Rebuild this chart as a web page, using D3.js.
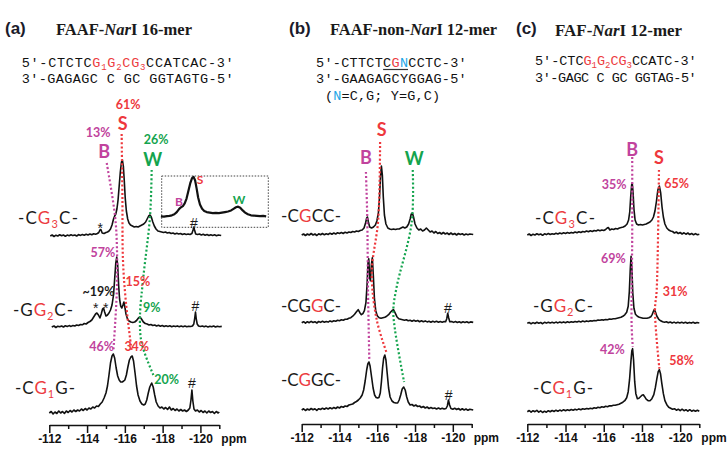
<!DOCTYPE html>
<html><head><meta charset="utf-8">
<script src="https://cdn.jsdelivr.net/npm/d3@7"></script>
<style>body{margin:0;background:#fff}svg{display:block}text{white-space:pre}</style>
</head><body>
<svg id="c" width="728" height="453"></svg>
<script>
// ---------------- DATA ----------------
const ppmTicks = [-112,-113,-114,-115,-116,-117,-118,-119,-120,-121];
const majorTicks = [-112,-114,-116,-118,-120];

// spectra: [ppm, intensity] (baseline = 0)
const specA_G3 = [[-112.05,0],[-112.15,1],[-112.25,-0.5],[-112.35,0.8],[-112.45,0],[-112.55,1.2],[-112.65,0.2],[-112.75,1],[-112.85,-0.3],[-112.95,0.9],[-113.05,0.3],[-113.15,1.3],[-113.25,0.4],[-113.35,1],[-113.45,0],[-113.55,1.4],[-113.65,0.6],[-113.75,1.5],[-113.85,0.8],[-113.95,1.8],[-114.05,1],[-114.15,2],[-114.25,1.2],[-114.35,2.3],[-114.45,1.8],[-114.55,2.5],[-114.62,3.5],[-114.68,6],[-114.73,6.5],[-114.8,3],[-114.9,2.5],[-115.0,3.5],[-115.08,4],[-115.16,5],[-115.24,7],[-115.32,11],[-115.40,17],[-115.46,20],[-115.52,22],[-115.58,27],[-115.64,36],[-115.70,50],[-115.76,64],[-115.82,74],[-115.87,76],[-115.92,70],[-115.97,55],[-116.02,38],[-116.08,25],[-116.15,17],[-116.22,13],[-116.30,11],[-116.40,10],[-116.50,9],[-116.60,9.5],[-116.70,9],[-116.80,10],[-116.90,11],[-117.0,12],[-117.10,14],[-117.18,17],[-117.26,20],[-117.33,21],[-117.40,19],[-117.48,14],[-117.56,10],[-117.65,7],[-117.75,5],[-117.85,4.5],[-117.95,4],[-118.05,3.5],[-118.15,4],[-118.25,3],[-118.35,3.5],[-118.45,2.5],[-118.55,3],[-118.65,2],[-118.75,2.8],[-118.85,2],[-118.95,2.5],[-119.05,1.5],[-119.15,2.2],[-119.25,1.5],[-119.35,2],[-119.45,1.5],[-119.55,2.5],[-119.61,6],[-119.65,9],[-119.69,6],[-119.75,2],[-119.85,1.5],[-119.95,2],[-120.05,1],[-120.15,1.8],[-120.25,0.8],[-120.35,1.5],[-120.45,0.5],[-120.55,1.3],[-120.65,0.6],[-120.75,1.2],[-120.85,0.3],[-120.95,1],[-121.1,0.5]];

const specA_G2 = [[-112.13,0],[-112.25,1],[-112.35,-0.5],[-112.45,0.8],[-112.55,0.2],[-112.65,1],[-112.75,0],[-112.85,1.2],[-112.95,0.5],[-113.05,1.4],[-113.15,0.6],[-113.25,1.5],[-113.35,1],[-113.45,2],[-113.55,1.5],[-113.65,2.5],[-113.75,2.2],[-113.85,3.5],[-113.95,3],[-114.05,4.5],[-114.15,5.5],[-114.25,7],[-114.35,10],[-114.45,13],[-114.52,14],[-114.60,12],[-114.68,9],[-114.75,13],[-114.82,18],[-114.87,19],[-114.93,15],[-115.0,11],[-115.08,12],[-115.16,14],[-115.24,17],[-115.32,22],[-115.40,32],[-115.46,48],[-115.52,64],[-115.57,70],[-115.62,62],[-115.67,42],[-115.72,28],[-115.78,21],[-115.84,19],[-115.90,22],[-115.95,25],[-116.00,20],[-116.06,13],[-116.14,8],[-116.22,6],[-116.32,5],[-116.42,4.5],[-116.52,5],[-116.62,6.5],[-116.72,9],[-116.80,10],[-116.88,8],[-116.98,5],[-117.08,3.5],[-117.18,3],[-117.28,2],[-117.38,2.5],[-117.48,1.5],[-117.58,2],[-117.68,1],[-117.78,1.8],[-117.88,0.8],[-117.98,1.5],[-118.08,0.5],[-118.18,1.3],[-118.28,0.6],[-118.38,1.2],[-118.48,0.3],[-118.58,1],[-118.68,0.4],[-118.78,1.1],[-118.88,0.2],[-118.98,0.9],[-119.08,0.3],[-119.18,1],[-119.28,0.2],[-119.38,0.8],[-119.48,0.5],[-119.58,1],[-119.65,3],[-119.70,9],[-119.74,15],[-119.78,8],[-119.83,3],[-119.90,1],[-120.0,0.5],[-120.1,1],[-120.2,0.2],[-120.3,0.9],[-120.4,0],[-120.5,0.8],[-120.6,0.2],[-120.7,1],[-120.8,0],[-120.9,0.8],[-121.0,0.2],[-121.13,0.6]];

const specA_G1 = [[-112.0,0],[-112.1,1.5],[-112.2,-1],[-112.3,1],[-112.4,-0.5],[-112.5,2],[-112.6,0],[-112.7,1.5],[-112.8,-0.5],[-112.9,2],[-113.0,0.5],[-113.1,2.5],[-113.2,1],[-113.3,3],[-113.4,1.5],[-113.5,3],[-113.6,2],[-113.7,4],[-113.8,2.5],[-113.9,4.5],[-114.0,3],[-114.1,5],[-114.2,4],[-114.3,6],[-114.4,5],[-114.5,7],[-114.6,6.5],[-114.7,9],[-114.8,11],[-114.9,15],[-115.0,20],[-115.08,27],[-115.16,38],[-115.24,50],[-115.32,57],[-115.39,59],[-115.46,55],[-115.54,45],[-115.62,37],[-115.70,33],[-115.78,31],[-115.86,31],[-115.94,32],[-116.0,33],[-116.08,38],[-116.16,46],[-116.24,53],[-116.32,56],[-116.39,57],[-116.46,52],[-116.54,40],[-116.62,27],[-116.70,18],[-116.80,12],[-116.90,9],[-117.0,8],[-117.08,9],[-117.16,13],[-117.24,20],[-117.32,26],[-117.42,30],[-117.50,26],[-117.58,18],[-117.66,11],[-117.76,7],[-117.86,5],[-117.96,6],[-118.06,4],[-118.16,5.5],[-118.26,3.5],[-118.36,6],[-118.46,3],[-118.56,4.5],[-118.66,2.5],[-118.76,4],[-118.86,2],[-118.96,3.5],[-119.06,2],[-119.16,3],[-119.26,1.5],[-119.36,3],[-119.44,5],[-119.50,13],[-119.55,23],[-119.60,12],[-119.66,4],[-119.74,2],[-119.84,3],[-119.94,1],[-120.04,2.5],[-120.14,0.5],[-120.24,2],[-120.34,0],[-120.44,2],[-120.54,0.5],[-120.64,1.5],[-120.74,-0.5],[-120.84,1.5],[-120.94,0],[-121.0,1]];

const specB_CGCC = [[-112.0,0],[-112.1,1],[-112.2,-0.5],[-112.3,1],[-112.4,0],[-112.5,1.5],[-112.6,0],[-112.7,1],[-112.8,-0.5],[-112.9,1.2],[-113.0,0.3],[-113.1,1.5],[-113.2,0.2],[-113.3,1.2],[-113.4,0.5],[-113.5,1.8],[-113.6,0.8],[-113.7,2],[-113.8,1],[-113.9,2.2],[-114.0,1.5],[-114.1,2.5],[-114.2,1.5],[-114.3,2.8],[-114.4,2],[-114.5,3],[-114.6,2.5],[-114.7,3.5],[-114.8,3],[-114.9,4],[-115.0,3.5],[-115.1,4.5],[-115.2,5],[-115.3,7],[-115.38,12],[-115.44,17],[-115.48,18],[-115.53,13],[-115.60,8],[-115.70,7],[-115.80,8],[-115.90,10],[-115.98,14],[-116.06,22],[-116.12,38],[-116.17,58],[-116.22,69],[-116.27,60],[-116.32,38],[-116.38,20],[-116.46,11],[-116.56,7],[-116.66,6],[-116.76,5.5],[-116.86,6],[-116.96,5.5],[-117.06,6],[-117.16,6],[-117.26,7],[-117.36,8],[-117.46,7],[-117.56,8],[-117.66,11],[-117.74,16],[-117.80,21],[-117.86,22],[-117.92,18],[-118.0,11],[-118.1,7],[-118.2,5],[-118.3,6],[-118.4,4],[-118.5,5],[-118.6,7],[-118.7,5],[-118.8,3],[-118.9,4],[-119.0,2],[-119.1,3.5],[-119.2,1.5],[-119.3,2.5],[-119.4,1],[-119.5,2.5],[-119.6,1],[-119.7,2],[-119.8,0.5],[-119.9,2],[-120.0,0.5],[-120.1,1.5],[-120.2,0],[-120.3,1.5],[-120.4,0.5],[-120.5,1.2],[-120.6,0],[-120.7,1],[-120.8,0.3],[-120.9,1],[-121.08,0.5]];

const specB_CGGC2 = [[-112.0,0],[-112.1,1],[-112.2,-0.5],[-112.3,1],[-112.4,0],[-112.5,1.3],[-112.6,0.2],[-112.7,1],[-112.8,-0.3],[-112.9,1.2],[-113.0,0.3],[-113.1,1.4],[-113.2,0.5],[-113.3,1.2],[-113.4,0.6],[-113.5,1.8],[-113.6,1],[-113.7,2],[-113.8,1.5],[-113.9,2.5],[-114.0,2],[-114.1,3],[-114.2,2.5],[-114.3,3.5],[-114.4,3.5],[-114.5,4.5],[-114.6,5],[-114.7,6.5],[-114.8,8.5],[-114.9,11],[-114.99,13],[-115.08,10],[-115.16,8],[-115.24,9],[-115.32,12],[-115.40,20],[-115.46,38],[-115.51,60],[-115.55,64],[-115.60,45],[-115.64,42],[-115.69,58],[-115.74,65],[-115.79,48],[-115.85,24],[-115.92,12],[-116.0,7],[-116.1,5],[-116.2,4.5],[-116.3,5],[-116.4,5.5],[-116.5,6.5],[-116.6,8],[-116.7,10.5],[-116.8,12.5],[-116.86,13],[-116.94,10],[-117.04,6],[-117.14,4],[-117.24,3.5],[-117.34,3],[-117.44,2.5],[-117.54,3],[-117.64,2],[-117.74,2.5],[-117.84,1.5],[-117.94,2.5],[-118.04,1.5],[-118.14,2.2],[-118.24,1],[-118.34,2],[-118.44,1],[-118.54,1.8],[-118.64,0.8],[-118.74,1.5],[-118.84,0.5],[-118.94,1.5],[-119.04,0.6],[-119.14,1.4],[-119.24,0.5],[-119.34,1.2],[-119.44,0.5],[-119.54,1.2],[-119.62,1],[-119.68,4],[-119.73,9.5],[-119.78,5],[-119.84,1],[-119.94,1.2],[-120.04,0.3],[-120.14,1.2],[-120.24,0.2],[-120.34,1],[-120.44,0],[-120.54,1],[-120.64,0.3],[-120.74,1],[-120.84,0],[-120.94,0.8],[-121.08,0.3]];

const specB_CGGC1 = [[-112.0,0],[-112.1,1.2],[-112.2,-0.5],[-112.3,1],[-112.4,0],[-112.5,1.5],[-112.6,0.3],[-112.7,1.2],[-112.8,-0.3],[-112.9,1.3],[-113.0,0.5],[-113.1,1.8],[-113.2,0.8],[-113.3,2],[-113.4,1],[-113.5,2.2],[-113.6,1.2],[-113.7,2.5],[-113.8,1.5],[-113.9,3],[-114.0,2],[-114.1,3.5],[-114.2,2.8],[-114.3,4],[-114.4,3.5],[-114.5,5],[-114.6,5.5],[-114.7,6],[-114.8,7.5],[-114.9,8.5],[-115.0,10],[-115.1,12],[-115.2,15],[-115.28,20],[-115.36,29],[-115.44,40],[-115.50,46],[-115.56,48],[-115.62,44],[-115.70,33],[-115.78,22],[-115.86,15],[-115.94,12.5],[-116.02,12],[-116.09,12.5],[-116.16,17],[-116.22,28],[-116.28,42],[-116.34,52],[-116.40,55],[-116.46,50],[-116.53,36],[-116.60,22],[-116.68,13],[-116.78,9],[-116.88,7.5],[-116.98,7],[-117.08,7],[-117.16,10],[-117.24,15],[-117.32,21],[-117.40,23],[-117.48,20],[-117.56,13],[-117.64,8],[-117.74,5],[-117.84,5.5],[-117.94,4],[-118.04,5],[-118.14,3.5],[-118.24,4],[-118.34,2.5],[-118.44,3.5],[-118.54,2],[-118.64,3],[-118.74,1.5],[-118.84,2.5],[-118.94,1.5],[-119.04,2],[-119.14,1],[-119.24,2],[-119.34,1],[-119.44,1.8],[-119.54,1],[-119.64,1.5],[-119.71,4],[-119.77,10],[-119.83,5],[-119.9,1.5],[-120.0,0.8],[-120.1,1.8],[-120.2,0.5],[-120.3,1.5],[-120.4,0],[-120.5,1.2],[-120.6,0],[-120.7,1],[-120.8,-0.3],[-120.9,0.8],[-121.08,0]];

const specC_G3 = [[-112.0,0],[-112.1,1],[-112.2,-0.5],[-112.3,0.8],[-112.4,0],[-112.5,1.2],[-112.6,0.2],[-112.7,1],[-112.8,-0.3],[-112.9,1.2],[-113.0,0.4],[-113.1,1.5],[-113.2,0.5],[-113.3,1.3],[-113.4,0.8],[-113.5,1.8],[-113.6,1],[-113.7,2],[-113.8,1.3],[-113.9,2.2],[-114.0,1.5],[-114.1,2.5],[-114.2,1.8],[-114.3,2.6],[-114.4,2],[-114.5,3],[-114.6,2.2],[-114.7,3.2],[-114.8,2.5],[-114.9,3.5],[-115.0,3],[-115.1,4],[-115.2,3.2],[-115.3,4.2],[-115.4,3.5],[-115.5,4.5],[-115.6,4],[-115.7,5],[-115.8,4.2],[-115.9,5],[-116.0,4.5],[-116.1,5.5],[-116.18,7],[-116.24,7.5],[-116.32,5],[-116.42,6],[-116.52,5.5],[-116.62,6.5],[-116.72,6],[-116.82,7],[-116.92,7.5],[-117.02,8],[-117.12,9],[-117.22,11],[-117.30,15],[-117.36,23],[-117.41,38],[-117.46,50],[-117.49,52],[-117.53,44],[-117.58,26],[-117.64,15],[-117.72,11],[-117.82,10],[-117.92,10.5],[-118.02,10],[-118.12,10.5],[-118.22,11],[-118.32,12],[-118.42,13],[-118.52,15],[-118.60,18],[-118.68,24],[-118.76,34],[-118.83,45],[-118.91,49],[-118.98,42],[-119.05,28],[-119.12,18],[-119.20,11],[-119.30,7],[-119.40,5],[-119.50,4],[-119.6,3.5],[-119.7,2],[-119.8,3],[-119.9,1.5],[-120.0,2.5],[-120.1,1],[-120.2,2.2],[-120.3,0.8],[-120.4,2],[-120.5,0.5],[-120.6,1.5],[-120.7,0.2],[-120.8,1.4],[-120.9,0.3],[-121.0,0.8]];

const specC_G2 = [[-112.0,0],[-112.1,0.8],[-112.2,-0.5],[-112.3,0.7],[-112.4,-0.2],[-112.5,1],[-112.6,0],[-112.7,0.8],[-112.8,-0.4],[-112.9,1],[-113.0,0.2],[-113.1,1.1],[-113.2,0.3],[-113.3,1],[-113.4,0.3],[-113.5,1.2],[-113.6,0.4],[-113.7,1.3],[-113.8,0.5],[-113.9,1.4],[-114.0,0.6],[-114.1,1.5],[-114.2,0.8],[-114.3,1.6],[-114.4,1],[-114.5,1.8],[-114.6,1.2],[-114.7,2],[-114.8,1.4],[-114.9,2.2],[-115.0,1.6],[-115.1,2.4],[-115.2,1.8],[-115.3,2.6],[-115.4,2.2],[-115.5,2.8],[-115.6,2.5],[-115.7,3.2],[-115.8,3],[-115.9,3.5],[-116.0,3.2],[-116.1,3.8],[-116.2,3.5],[-116.3,4.2],[-116.4,4],[-116.5,4.5],[-116.6,4.5],[-116.7,5],[-116.8,5.5],[-116.9,6],[-117.0,7],[-117.1,8.5],[-117.2,11],[-117.28,17],[-117.34,32],[-117.39,55],[-117.43,67],[-117.47,56],[-117.52,30],[-117.58,15],[-117.66,9],[-117.76,7],[-117.86,6],[-117.96,5.5],[-118.06,5],[-118.16,5],[-118.26,5],[-118.36,5.5],[-118.46,6.5],[-118.54,9],[-118.60,12],[-118.65,14],[-118.71,11],[-118.78,7],[-118.88,4],[-118.98,2.5],[-119.08,1.5],[-119.18,1],[-119.28,1.5],[-119.38,0.5],[-119.48,1.3],[-119.58,0.3],[-119.68,1.2],[-119.78,0.2],[-119.88,1],[-119.98,0.3],[-120.08,1.1],[-120.18,0.2],[-120.28,1],[-120.38,0],[-120.48,0.9],[-120.58,0.2],[-120.68,1],[-120.78,0],[-120.88,0.8],[-121.0,0.3]];

const specC_G1 = [[-112.0,0],[-112.1,1.2],[-112.2,-0.5],[-112.3,1],[-112.4,0],[-112.5,1.3],[-112.6,-0.5],[-112.7,0.8],[-112.8,-0.8],[-112.9,0.5],[-113.0,-0.5],[-113.1,1],[-113.2,0],[-113.3,1.2],[-113.4,0.2],[-113.5,1.5],[-113.6,0.5],[-113.7,1.6],[-113.8,0.8],[-113.9,2],[-114.0,1],[-114.1,2],[-114.2,1.2],[-114.3,2.2],[-114.4,1.5],[-114.5,2.5],[-114.6,1.8],[-114.7,2.8],[-114.8,2],[-114.9,3],[-115.0,2.5],[-115.1,3.2],[-115.2,2.8],[-115.3,3.5],[-115.4,3],[-115.5,4],[-115.6,3.5],[-115.7,4.5],[-115.8,4],[-115.9,5],[-116.0,4.5],[-116.1,5.5],[-116.2,5],[-116.3,6],[-116.4,5.8],[-116.5,6.5],[-116.6,6.5],[-116.7,7],[-116.8,7.5],[-116.9,8.5],[-117.0,9.5],[-117.1,11],[-117.2,14],[-117.28,20],[-117.35,32],[-117.42,50],[-117.47,61],[-117.51,63],[-117.56,52],[-117.62,30],[-117.68,18],[-117.76,13],[-117.84,13.5],[-117.92,15],[-118.0,16.5],[-118.07,17],[-118.14,15],[-118.22,12.5],[-118.32,11],[-118.42,11],[-118.52,13],[-118.62,17],[-118.70,24],[-118.78,33],[-118.85,40],[-118.91,42],[-118.97,38],[-119.04,28],[-119.12,18],[-119.20,11],[-119.30,7],[-119.40,4.5],[-119.50,3.5],[-119.6,2.5],[-119.7,3],[-119.8,1.5],[-119.9,2.5],[-120.0,1],[-120.1,2.5],[-120.2,1],[-120.3,2],[-120.4,0.5],[-120.5,2],[-120.6,0.5],[-120.7,1.5],[-120.8,0.5],[-120.9,1.5],[-121.0,0.5]];

// guide (dotted) lines: [ppm, row, intensity]
const guideA_B = [[-115.04,0,73],[-115.48,0,20],[-115.58,0,-11],[-115.57,1,34],[-115.39,2,62]];
const guideA_S = [[-115.83,0,102],[-115.87,0,40],[-115.9,1,67],[-116.06,1,24],[-116.36,2,62]];
const guideA_W = [[-117.42,0,66],[-117.33,0,19],[-116.98,1,50],[-116.80,1,10],[-116.89,2,70],[-117.51,2,38]];
const guideB_B = [[-115.40,0,63],[-115.47,0,18],[-115.51,1,33],[-115.58,2,50]];
const guideB_S = [[-116.15,0,93],[-116.05,0,15],[-115.71,1,50],[-115.97,1,3],[-116.5,2,57]];
const guideB_W = [[-117.88,0,65],[-117.82,0,12],[-117.03,1,36],[-116.85,1,13],[-116.94,2,80],[-117.42,2,28]];
const guideC_B = [[-117.49,0,78],[-117.49,0,0],[-117.46,1,-3],[-117.52,2,65]];
const guideC_S = [[-118.89,0,65],[-118.77,1,33],[-118.68,1,13],[-118.91,2,43]];

// annotations: text anchored at [ppm, row, intensity]; k = conformer (B/S/W) or N (neutral)
const labelsA = [
 {t:"61%",k:"S",ppm:-116.17,row:0,h:131},{t:"S",k:"S",ppm:-115.88,row:0,h:112,big:1},
 {t:"13%",k:"B",ppm:-114.58,row:0,h:103},{t:"B",k:"B",ppm:-114.9,row:0,h:84,big:1},
 {t:"26%",k:"W",ppm:-117.65,row:0,h:96},{t:"W",k:"W",ppm:-117.47,row:0,h:76,big:1},
 {t:"*",k:"N",ppm:-114.7,row:0,h:11},{t:"#",k:"N",ppm:-119.65,row:0,h:13},
 {t:"57%",k:"B",ppm:-114.84,row:1,h:74},{t:"~19%",k:"N",ppm:-114.6,row:1,h:35},
 {t:"*",k:"N",ppm:-114.46,row:1,h:22},{t:"*",k:"N",ppm:-114.99,row:1,h:22},
 {t:"15%",k:"S",ppm:-116.69,row:1,h:45},{t:"9%",k:"W",ppm:-117.42,row:1,h:19},
 {t:"#",k:"N",ppm:-119.74,row:1,h:21},
 {t:"46%",k:"B",ppm:-114.77,row:2,h:66},{t:"34%",k:"S",ppm:-116.63,row:2,h:66},
 {t:"20%",k:"W",ppm:-118.21,row:2,h:33},{t:"#",k:"N",ppm:-119.55,row:2,h:30}
];
const labelsB = [
 {t:"S",k:"S",ppm:-116.23,row:0,h:105,big:1},{t:"B",k:"B",ppm:-115.40,row:0,h:77,big:1},
 {t:"W",k:"W",ppm:-117.96,row:0,h:76,big:1},
 {t:"#",k:"N",ppm:-119.74,row:1,h:15},{t:"#",k:"N",ppm:-119.78,row:2,h:15}
];
const labelsC = [
 {t:"B",k:"B",ppm:-117.49,row:0,h:85,big:1},{t:"S",k:"S",ppm:-118.89,row:0,h:77,big:1},
 {t:"35%",k:"B",ppm:-116.54,row:0,h:50},{t:"65%",k:"S",ppm:-119.82,row:0,h:51},
 {t:"69%",k:"B",ppm:-116.5,row:1,h:65},{t:"31%",k:"S",ppm:-119.73,row:1,h:31.6},
 {t:"42%",k:"B",ppm:-116.45,row:2,h:61.7},{t:"58%",k:"S",ppm:-120.08,row:2,h:50.7}
];
// inset (expanded view of -CG3C- in panel a)
const insetDomain = [-114.77,-118.31];
const insetLabels = [{t:"B",k:"B",ppm:-115.39,h:30},{t:"S",k:"S",ppm:-116.08,h:70},{t:"W",k:"W",ppm:-117.36,h:33}];

// texts
const rowLabelsA = [[["-C"],["G","r"],["3","r",1],["C-"]],[["-G"],["G","r"],["2","r",1],["C-"]],[["-C"],["G","r"],["1","r",1],["G-"]]];
const rowLabelsB = [[["-C"],["G","r"],["CC-"]],[["-CG"],["G","r"],["C-"]],[["-C"],["G","r"],["GC-"]]];
const rowLabelsC = rowLabelsA;
const titleA = [["FAAF-"],["Nar",1],["I 16-mer"]];
const titleB = [["FAAF-non-"],["Nar",1],["I 12-mer"]];
const titleC = [["FAF-"],["Nar",1],["I 12-mer"]];
const seqA = [[["5′-CTCTC"],["G","r"],["1","r",1],["G","r"],["2","r",1],["CG","r"],["3","r",1],["CCATCAC-3′"]],[["3′-GAGAGC C GC GGTAGTG-5′"]]];
const seqB = [[["5′-CTTCTC"],["G","r"],["N","b"],["CCTC-3′"]],[["3′-GAAGAGCYGGAG-5′"]],[["("],["N","b"],["=C,G; Y=G,C)"]]];
const seqC = [[["5′-CTC"],["G","r"],["1","r",1],["G","r"],["2","r",1],["CG","r"],["3","r",1],["CCATC-3′"]],[["3′-GAGC C GC GGTAG-5′"]]];

// ---------------- DRAW ----------------
const COL = {S:"#ee383d", B:"#c1439d", W:"#14a44e", N:"#1a1a1a", r:"#ec3b40", b:"#1ea6e6"};
const svg = d3.select("#c");
const SANS = "Lato, 'Liberation Sans', Arial, sans-serif";

const panels = [
 {letter:"(a)", lx:5, title:titleA, tx:56, tw:136, ty:35, seq:seqA, sx:21.7, sw:212, sy:[66.7,83.3],
  x0:49.3, x1:219.3, axisY:425, rows:[236,327,413], spectra:[specA_G3,specA_G2,specA_G1],
  guides:[[guideA_B,"B"],[guideA_S,"S"],[guideA_W,"W"]], labels:labelsA, rowLabels:rowLabelsA, rlPos:[[18,224],[13,316],[15,394]]},
 {letter:"(b)", lx:289, title:titleB, tx:330, tw:167, ty:35, seq:seqB, sx:316, sw:150.7, sy:[67,83,100],
  x0:301.7, x1:471.7, axisY:424, rows:[235,322.7,410], spectra:[specB_CGCC,specB_CGGC2,specB_CGGC1],
  guides:[[guideB_B,"B"],[guideB_S,"S"],[guideB_W,"W"]], labels:labelsB, rowLabels:rowLabelsB, rlPos:[[281,222],[281,312],[281,386]]},
 {letter:"(c)", lx:516, title:titleC, tx:555, tw:127, ty:36, seq:seqC, sx:535, sw:161.7, sy:[65,81.7],
  x0:527.3, x1:699.3, axisY:424, rows:[235,323.3,411.7], spectra:[specC_G3,specC_G2,specC_G1],
  guides:[[guideC_B,"B"],[guideC_S,"S"]], labels:labelsC, rowLabels:rowLabelsC, rlPos:[[535,224],[533,312],[533,394]]}
];

function rich(parent, x, y, parts, opt){
  const t = parent.append("text").attr("x",x).attr("y",y)
    .style("font-family",opt.font).style("font-size",opt.size+"px").style("font-weight",opt.weight||"normal")
    .attr("fill", opt.fill||"#1a1a1a");
  if(opt.w) t.attr("textLength",opt.w).attr("lengthAdjust",opt.adjust||"spacing");
  let shifted = 0;
  parts.forEach(p=>{
    const ts = t.append("tspan").text(p[0]);
    if(opt.italicMode){ if(p[1]) ts.style("font-style","italic"); return; }
    if(p[1]) ts.attr("fill", COL[p[1]]);
    if(p[2]){ ts.style("font-size",opt.sub+"px"); if(!shifted){ts.attr("dy",opt.subShift); shifted=1;} }
    else if(shifted){ ts.attr("dy",-opt.subShift); shifted=0; }
  });
  return t;
}

panels.forEach((p,pi)=>{
  const g = svg.append("g");
  const x = d3.scaleLinear().domain([-112,-121]).range([p.x0,p.x1]);
  const ys = p.rows.map(b=>d3.scaleLinear().domain([0,100]).range([b,b-100]));

  // header
  g.append("text").attr("x",p.lx).attr("y",34).text(p.letter)
    .style("font-family","'Liberation Sans',Arial,sans-serif").style("font-weight","bold").style("font-size","17px").attr("fill","#1b1b2a");
  rich(g, p.tx, p.ty, p.title, {font:"'Liberation Serif','Times New Roman',serif", size:16.5, weight:"bold", w:p.tw, adjust:"spacingAndGlyphs", italicMode:1, fill:"#1a1a1a"});
  const seqTexts = p.seq.map((parts,i)=>{
    const w = (pi===1 && i===2) ? 115 : p.sw;
    const xx = (pi===1 && i===2) ? 325 : p.sx;
    return rich(g, xx, p.sy[i], parts, {font:"'Liberation Mono','DejaVu Sans Mono',monospace", size:13.5, w:w, sub:9, subShift:3, fill:"#111"});
  });
  if(pi===1){
    const node = seqTexts[0].node();
    const s = node.getStartPositionOfChar(8).x, e = node.getEndPositionOfChar(10).x;
    g.append("line").attr("x1",s).attr("x2",e).attr("y1",p.sy[0]+2.5).attr("y2",p.sy[0]+2.5).attr("stroke","#333").attr("stroke-width",1.2);
  }

  // axis
  const ax = d3.axisBottom(x).tickValues(ppmTicks).tickSizeOuter(0)
    .tickFormat(d=> majorTicks.includes(d) ? String(d) : "");
  const axg = g.append("g").attr("transform",`translate(0,${p.axisY})`).call(ax);
  axg.select(".domain").attr("stroke","#111").attr("stroke-width",1.5);
  axg.selectAll(".tick line").attr("stroke","#111").attr("stroke-width",1.5).attr("y2",d=>majorTicks.includes(d)?8:4);
  axg.selectAll(".tick text").attr("y",18).attr("dy",0).attr("fill","#111")
    .style("font-family","'Liberation Sans',Arial,sans-serif").style("font-weight","bold").style("font-size","12px");
  g.append("text").attr("x",p.x1+2).attr("y",p.axisY+18).text("ppm")
    .style("font-family","'Liberation Sans',Arial,sans-serif").style("font-weight","bold").style("font-size","12px").attr("fill","#111");

  // spectra
  p.spectra.forEach((s,i)=>{
    const line = d3.line().x(d=>x(d[0])).y(d=>ys[i](d[1]));
    g.append("path").attr("d",line(s)).attr("fill","none").attr("stroke","#111").attr("stroke-width",1.6).attr("stroke-linejoin","round");
  });

  // inset (panel a only)
  if(pi===0){
    const xi = d3.scaleLinear().domain(insetDomain).range([160,268]);
    const yi = d3.scaleLinear().domain([0,76]).range([218,177]);
    const pts = specA_G3.filter(d=>d[0]<=insetDomain[0]+0.01 && d[0]>=insetDomain[1]-0.01);
    g.append("rect").attr("x",161.7).attr("y",176).attr("width",106.6).attr("height",51.3)
      .attr("fill","none").attr("stroke","#444").attr("stroke-width",1).attr("stroke-dasharray","1.5,1.5");
    g.append("path").attr("d",d3.line().x(d=>xi(d[0])).y(d=>yi(d[1]))(pts))
      .attr("fill","none").attr("stroke","#111").attr("stroke-width",2.2).attr("stroke-linejoin","round");
    insetLabels.forEach(l=>{
      g.append("text").attr("x",xi(l.ppm)).attr("y",yi(l.h)).attr("dy","0.35em").attr("text-anchor","middle")
        .text(l.t).attr("fill",COL[l.k]).style("font-family",SANS).style("font-weight","bold").style("font-size","12px");
    });
  }

  // guides
  p.guides.forEach(([pts,k])=>{
    const line = d3.line().x(d=>x(d[0])).y(d=>ys[d[1]](d[2])).curve(d3.curveCatmullRom.alpha(0.5));
    g.append("path").attr("d",line(pts)).attr("fill","none").attr("stroke",COL[k])
      .attr("stroke-width",2.2).attr("stroke-dasharray","2,2.2");
  });

  // labels
  p.labels.forEach(l=>{
    const sym = (l.t==="*"||l.t==="#");
    g.append("text").attr("x",x(l.ppm)).attr("y",ys[l.row](l.h))
      .attr("dy", l.t==="*" ? "0.6em" : "0.35em").attr("text-anchor","middle").text(l.t)
      .attr("fill",COL[l.k]).style("font-family", sym ? "'Liberation Sans',Arial,sans-serif" : SANS)
      .style("font-weight", sym ? "normal" : "bold")
      .style("font-size", l.big ? "18px" : (sym ? "14px" : "12.5px"));
  });

  // row labels
  p.rowLabels.forEach((parts,i)=>{
    rich(g, p.rlPos[i][0], p.rlPos[i][1], parts, {font:SANS, size:17, w:60, sub:11, subShift:4, fill:"#1a1a1a"});
  });
});
</script>
</body></html>
